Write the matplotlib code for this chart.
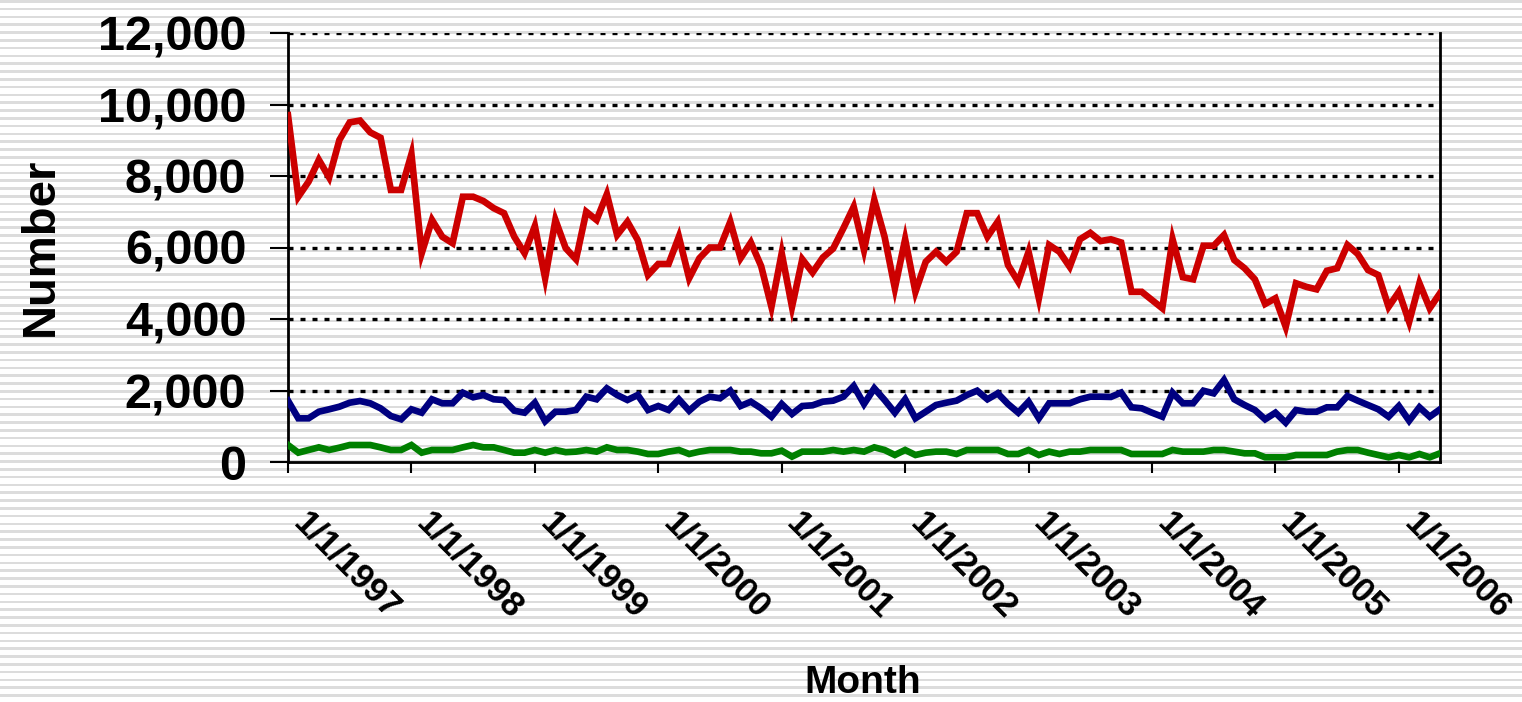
import numpy as np
import matplotlib
matplotlib.use('Agg')
import matplotlib.pyplot as plt
import matplotlib.transforms as mtransforms
from matplotlib.colors import ListedColormap
from matplotlib.ticker import FuncFormatter

plt.rcParams['font.family'] = ['Liberation Sans', 'DejaVu Sans']
plt.rcParams['font.weight'] = 'bold'

# monthly values, Jan 1997 - May 2006
red = [9700, 7420, 7840, 8450, 7960, 9010, 9500, 9550, 9220, 9070, 7610, 7610,
       8610, 5840, 6770, 6300, 6120, 7420, 7420, 7300, 7100, 6960, 6300, 5840,
       6600, 5140, 6770, 5980, 5670, 7000, 6770, 7490, 6350, 6720, 6210, 5230,
       5540, 5540, 6300, 5140, 5700, 6000, 6000, 6720, 5700, 6140, 5480, 4340,
       5840, 4340, 5670, 5300, 5720, 5970, 6540, 7140, 5930, 7330, 6300, 4860,
       6230, 4760, 5600, 5880, 5600, 5880, 6960, 6960, 6300, 6720, 5510, 5040,
       5880, 4580, 6070, 5880, 5460, 6230, 6410, 6180, 6230, 6140, 4760, 4760,
       4530, 4300, 6230, 5170, 5110, 6050, 6050, 6350, 5650, 5420, 5110, 4420,
       4580, 3780, 5000, 4900, 4830, 5350, 5420, 6070, 5820, 5370, 5230, 4340,
       4760, 3920, 5000, 4300, 4720]

blue = [1715, 1222, 1222, 1407, 1474, 1547, 1659, 1706, 1642, 1502, 1287, 1194,
        1474, 1379, 1754, 1642, 1642, 1938, 1810, 1874, 1754, 1734, 1435, 1379,
        1659, 1140, 1407, 1407, 1454, 1827, 1754, 2061, 1874, 1734, 1874, 1454,
        1566, 1454, 1754, 1435, 1687, 1827, 1782, 1994, 1566, 1687, 1502, 1267,
        1622, 1343, 1566, 1586, 1687, 1715, 1827, 2126, 1622, 2061, 1734, 1379,
        1754, 1222, 1407, 1594, 1659, 1715, 1874, 1994, 1754, 1920, 1622, 1379,
        1687, 1222, 1642, 1642, 1642, 1754, 1827, 1827, 1820, 1940, 1530, 1502,
        1379, 1267, 1938, 1642, 1642, 1994, 1920, 2294, 1754, 1594, 1454, 1194,
        1379, 1099, 1454, 1407, 1407, 1530, 1530, 1846, 1715, 1594, 1474, 1267,
        1566, 1155, 1530, 1267, 1474]

green = [475, 261, 336, 410, 336, 401, 475, 475, 475, 410, 336, 336,
         475, 261, 336, 336, 336, 410, 475, 410, 410, 336, 261, 261,
         336, 261, 336, 275, 290, 336, 290, 410, 336, 336, 290, 224,
         224, 290, 336, 224, 290, 336, 336, 336, 290, 290, 243, 243,
         317, 150, 290, 290, 290, 336, 290, 336, 290, 410, 336, 196,
         336, 196, 261, 290, 290, 224, 336, 336, 336, 336, 224, 224,
         336, 196, 290, 224, 290, 290, 336, 336, 336, 336, 224, 224,
         224, 224, 336, 290, 290, 290, 336, 336, 290, 243, 243, 131,
         131, 131, 196, 196, 196, 196, 290, 336, 336, 261, 196, 131,
         196, 131, 224, 131, 243]

year_labels = ['1/1/1997', '1/1/1998', '1/1/1999', '1/1/2000', '1/1/2001',
               '1/1/2002', '1/1/2003', '1/1/2004', '1/1/2005', '1/1/2006']

W, H = 1522, 702
fig = plt.figure(figsize=(W / 100, H / 100), dpi=100)

# striped background over the whole picture
bg = fig.add_axes([0, 0, 1, 1], zorder=-10)
rows = np.arange(H * 4) / 4.0
stripe = ((rows % 7.8) < 2.6).astype(int)
bg.imshow(stripe[:, None], cmap=ListedColormap(['white', '#DCDCDC']),
          vmin=0, vmax=1, aspect='auto', interpolation='nearest',
          extent=[0, 1, 0, 1])
bg.axis('off')

ax = fig.add_axes([288 / W, 1 - 462 / H, (1440 - 288) / W, (462 - 33) / H])
ax.patch.set_alpha(0)

x = np.arange(len(red))
ax.plot(x, red, color='#CC0000', lw=4.8, solid_joinstyle='miter', zorder=5)
ax.plot(x, blue, color='#000080', lw=4.8, solid_joinstyle='miter', zorder=4)
ax.plot(x, green, color='#008000', lw=4.8, solid_joinstyle='miter', zorder=3)

ax.set_xlim(0, len(red) - 1)
ax.set_ylim(0, 12000)
ax.set_yticks(np.arange(0, 12001, 2000))
ax.yaxis.set_major_formatter(FuncFormatter(lambda v, p: f'{int(v):,}'))
ax.set_xticks(np.arange(0, 109, 12))
ax.set_xticklabels(year_labels)

for v in range(2000, 12001, 2000):
    ax.axhline(v, color='black', lw=2.4, linestyle=(0, (1.5, 2.1)), zorder=1)

ax.spines['top'].set_visible(False)
for s in ['left', 'bottom', 'right']:
    ax.spines[s].set_linewidth(2)
    ax.spines[s].set_color('black')

ax.tick_params(axis='y', direction='out', length=13, width=1.5, pad=17,
               labelsize=35)
ax.tick_params(axis='x', direction='out', length=8, width=1.5, pad=24,
               labelsize=25)

offset = mtransforms.ScaledTranslation(16 / 72, 0, fig.dpi_scale_trans)
for lab in ax.get_xticklabels():
    lab.set_rotation(-45)
    lab.set_ha('left')
    lab.set_va('top')
    lab.set_rotation_mode('anchor')
    lab.set_transform(lab.get_transform() + offset)

fig.text(863 / W, 1 / H, 'Month', ha='center', va='bottom',
         fontsize=28, fontweight='bold')
fig.text(53 / W, 1 - 247 / H, 'Number', ha='center', va='baseline',
         rotation=90, rotation_mode='anchor', fontsize=34, fontweight='bold')

fig.savefig('out.png', dpi=100)
